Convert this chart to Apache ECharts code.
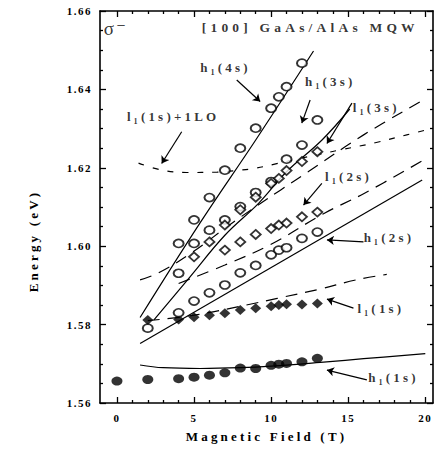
<!DOCTYPE html>
<html><head><meta charset="utf-8">
<script src="https://cdn.jsdelivr.net/npm/echarts@6/dist/echarts.min.js"></script>
<style>html,body{margin:0;padding:0;background:#fff}#c{width:436px;height:451px}</style>
</head><body><div id="c"></div>
<script>
// ---------- axis ticks ----------
const majorX = [0, 5, 10, 15, 20];
const minorX = [1, 2, 3, 4, 6, 7, 8, 9, 11, 12, 13, 14, 16, 17, 18, 19];
const xName = 'Magnetic Field (T)';
const yName = 'Energy (eV)';
const titleText = '[100] GaAs/AlAs MQW';

// ---------- measured points [B (T), E (eV)] ----------
const h1s1Data = [[0,1.5656],[2,1.5660],[4,1.5662],[5,1.5666],[6,1.5671],[7,1.5677],[8,1.5689],[9,1.5688],[10,1.5696],[10.5,1.5699],[11,1.5701],[12,1.5705],[13,1.5714]];
const l1s1Data = [[2,1.5812],[4,1.5813],[5,1.5819],[6,1.5824],[7,1.5829],[8,1.5837],[9,1.5842],[10,1.5847],[10.5,1.5850],[11,1.5852],[12,1.5851],[13,1.5854]];
const h1s2Data = [[2,1.5791],[4,1.5830],[5,1.5860],[6,1.5881],[7,1.5901],[8,1.5932],[9,1.5951],[10,1.5978],[10.5,1.5990],[11,1.5996],[12,1.6020],[13,1.6036]];
const l1s2Data = [[5,1.5973],[7,1.5990],[8,1.6011],[9,1.6030],[10,1.6045],[10.5,1.6054],[11,1.6059],[12,1.6075],[13,1.6087]];
const h1s3Data = [[4,1.5931],[5,1.6007],[6,1.6041],[7,1.6067],[8,1.6101],[9,1.6137],[10,1.6165],[11,1.6222],[12,1.6258],[13,1.6322]];
const l1s3Data = [[6,1.6011],[7,1.6054],[8,1.6093],[9,1.6125],[10,1.6160],[10.5,1.6173],[11,1.6193],[12,1.6216],[13,1.6241]];
const h1s4Data = [[4,1.6007],[5,1.6067],[6,1.6124],[7,1.6194],[8,1.6250],[9,1.6301],[10,1.6352],[10.5,1.6381],[11,1.6407],[12,1.6467]];

// ---------- theory curves ----------
const h1s1Fit = [[1.5,1.5697],[3,1.5690],[5.4,1.5688],[8,1.5690],[10,1.5694],[13.6,1.5705],[16,1.5713],[20,1.5726]];
const h1s2Fit = [[1.5,1.5752],[19.8,1.6169]];
const h1s3Fit = [[2.4,1.5812],[4.7,1.5920],[7,1.6028],[9.2,1.6110],[11,1.6190],[13.3,1.6271],[15.1,1.6350]];
const h1s4Fit = [[1.5,1.5818],[5.4,1.6060],[9,1.6271],[12.75,1.6498]];
const l1s1Fit = [[2,1.5810],[5,1.5824],[8.4,1.5850],[10.4,1.5867],[13.1,1.5890],[15.5,1.5914],[17.5,1.5928]];
const l1s2Fit = [[4,1.5905],[7,1.5952],[10,1.6005],[13.4,1.6083],[16,1.6134],[19.9,1.6220]];
const l1s3Fit = [[1.5,1.5914],[2.7,1.5932],[4.8,1.5982],[7.5,1.6060],[10.6,1.6143],[12.4,1.6190],[16,1.6284],[19.7,1.6369]];
const loFit  = [[1.4,1.6212],[2.8,1.6195],[4.5,1.6188],[6.5,1.6189],[8,1.6194],[9,1.6199],[10.3,1.6210],[12,1.6225],[14.4,1.6245],[16.75,1.6264],[18.8,1.6284],[20,1.6296]];

// ---------- annotations ----------
const labelText = ['σ⁻', titleText, 'h₁(4s)', 'h₁(3s)', 'l₁(3s)', 'l₁(1s)+1LO', 'l₁(2s)', 'h₁(2s)', 'l₁(1s)', 'h₁(1s)'];
const labelB = [-0.85, 5.5, 5.4, 12.2, 15.3, 0.65, 13.5, 16.0, 15.6, 16.3];
const labelE = [1.6556, 1.6559, 1.6455, 1.6419, 1.6355, 1.6330, 1.6179, 1.6023, 1.5842, 1.5666];
const arrowFrom = [[7.77,1.6424],[12.53,1.6373],[15.24,1.6365],[4.20,1.6292],[13.29,1.6160],[15.99,1.6011],[15.34,1.5842],[16.21,1.5659]];
const arrowTo   = [[9.29,1.6369],[11.99,1.6314],[13.62,1.6262],[2.90,1.6211],[12.10,1.6105],[13.62,1.6016],[13.62,1.5865],[13.62,1.5684]];

const FONT = "'Liberation Serif','DejaVu Serif',serif";
const INK = '#000';

const chart = echarts.init(document.getElementById('c'), null, {renderer: 'svg'});

function xAx(pos, ticks, len, line, labels) {
  return {
    type: 'value', position: pos, min: -1.1, max: 20.5, gridIndex: 0,
    axisLine: {show: line, onZero: false, lineStyle: {color: INK, width: 1.6}},
    axisTick: {show: true, inside: true, length: len, customValues: ticks, lineStyle: {color: INK, width: 1.3}},
    axisLabel: labels ? {show: true, customValues: majorX, margin: 9, color: INK, fontSize: 11, fontWeight: 'bold', fontFamily: FONT} : {show: false},
    splitLine: {show: false},
    name: labels ? xName : '', nameLocation: 'middle', nameGap: 27,
    nameTextStyle: {color: INK, fontSize: 13, fontWeight: 'bold', fontFamily: FONT}
  };
}
function yAx(pos, labels) {
  return {
    type: 'value', position: pos, min: 1.56, max: 1.66, interval: 0.02, gridIndex: 0,
    axisLine: {show: true, onZero: false, lineStyle: {color: INK, width: 1.6}},
    axisTick: {show: true, inside: true, length: 6, lineStyle: {color: INK, width: 1.3}},
    minorTick: {show: true, splitNumber: 4, length: 3, lineStyle: {color: INK, width: 1.3}},
    axisLabel: labels ? {show: true, margin: 8, color: INK, fontSize: 11, fontWeight: 'bold', fontFamily: FONT, formatter: v => v.toFixed(2)} : {show: false},
    splitLine: {show: false},
    name: labels ? yName : '', nameLocation: 'middle', nameGap: 60,
    nameTextStyle: {color: INK, fontSize: 13, fontWeight: 'bold', fontFamily: FONT, padding: [0, 68, 0, 0]}
  };
}

function pts(name, data, symbol, filled, size) {
  return {
    name, type: 'scatter', data, symbol, symbolSize: size, z: 5,
    itemStyle: filled ? {color: '#000'} : {color: '#fff', borderColor: '#000', borderWidth: 1.8}
  };
}
function curve(name, data, type, smooth) {
  return {
    name, type: 'line', data, showSymbol: false, symbol: 'none', smooth: smooth ? 0.4 : false, z: 3,
    lineStyle: {color: INK, width: 1.2, type}
  };
}

const labelSeries = {
  type: 'scatter', symbolSize: 0, z: 6,
  data: labelText.map((t, i) => ({
    value: [labelB[i], labelE[i]], name: t,
    label: i === 0 ? {fontSize: 19, fontWeight: 'normal'} : (i === 1 ? {fontSize: 13.5} : {})
  })),
  label: {show: true, position: 'right', distance: 0, formatter: p => p.name,
    color: INK, fontSize: 13, fontWeight: 'bold', fontFamily: FONT},
  silent: true
};
const arrowSeries = {
  type: 'lines', coordinateSystem: 'cartesian2d', z: 4,
  symbol: ['none', 'arrow'], symbolSize: 7,
  lineStyle: {color: INK, width: 1.2, opacity: 1},
  data: arrowFrom.map((f, i) => ({coords: [f, arrowTo[i]]})),
  silent: true
};

chart.setOption({
  animation: false,
  backgroundColor: '#fff',
  grid: {left: 100, right: 3, top: 11, bottom: 48, outerBoundsMode: 'none', containLabel: false},
  xAxis: [xAx('bottom', majorX, 6, true, true), xAx('bottom', minorX, 3, false, false),
          xAx('top', majorX, 6, true, false), xAx('top', minorX, 3, false, false)],
  yAxis: [yAx('left', true), yAx('right', false)],
  series: [
    curve('h1(1s) fit', h1s1Fit, 'solid', true),
    curve('h1(2s) fit', h1s2Fit, 'solid', false),
    curve('h1(3s) fit', h1s3Fit, 'solid', true),
    curve('h1(4s) fit', h1s4Fit, 'solid', true),
    curve('l1(1s) fit', l1s1Fit, [12, 8], true),
    curve('l1(2s) fit', l1s2Fit, [12, 8], true),
    curve('l1(3s) fit', l1s3Fit, [12, 8], true),
    curve('l1(1s)+1LO', loFit, [6, 9], true),
    pts('h1(1s)', h1s1Data, 'circle', true, [11, 9]),
    pts('l1(1s)', l1s1Data, 'diamond', true, [11, 10]),
    pts('h1(2s)', h1s2Data, 'circle', false, [10, 8]),
    pts('l1(2s)', l1s2Data, 'diamond', false, [10, 9]),
    pts('h1(3s)', h1s3Data, 'circle', false, [10, 8]),
    pts('l1(3s)', l1s3Data, 'diamond', false, [10, 9]),
    pts('h1(4s)', h1s4Data, 'circle', false, [10, 8]),
    arrowSeries,
    labelSeries
  ]
});

function applySpacing() {
  document.querySelectorAll('#c svg text').forEach(t => {
    const s = t.textContent;
    let ls;
    if (s === xName || s === yName) ls = 3.2;
    else if (s === titleText) ls = 4.2;
    else if (/^[0-9.]+$/.test(s)) ls = 1.5;
    else if (s === 'σ⁻') ls = 2;
    else ls = 3.2;
    t.style.letterSpacing = ls + 'px';
  });
}
chart.on('finished', applySpacing);
applySpacing();
</script>
</body></html>
